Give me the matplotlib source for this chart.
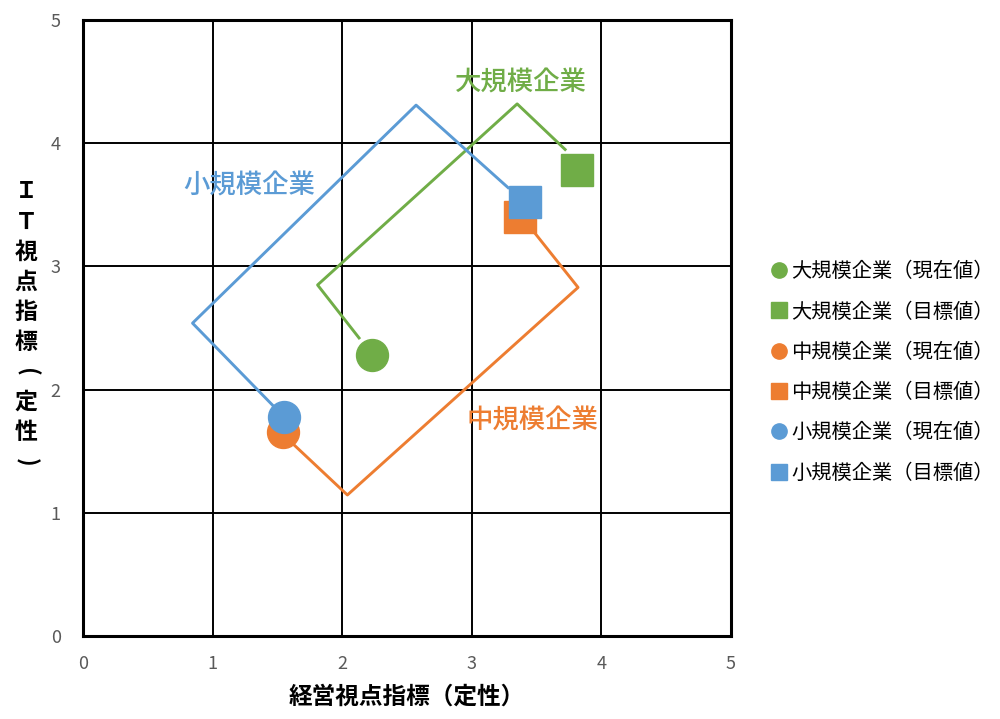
import matplotlib
matplotlib.use("Agg")
import matplotlib.pyplot as plt
from matplotlib.lines import Line2D

plt.rcParams['font.family'] = ['Noto Sans CJK JP', 'DejaVu Sans']

# Company groups and their colours
groups = ["大規模企業", "中規模企業", "小規模企業"]
colors = ["#70AD47", "#ED7D31", "#5B9BD5"]

# Current values (x: management indicator, y: IT indicator)
current_x = [2.23, 1.54, 1.55]
current_y = [2.28, 1.66, 1.78]
# Target values
target_x = [3.81, 3.37, 3.41]
target_y = [3.78, 3.40, 3.52]

# Elbow connector paths from current to target
path_large_x = [2.13, 1.81, 3.35, 3.72]
path_large_y = [2.42, 2.85, 4.32, 3.95]
path_mid_x = [1.63, 2.04, 3.82, 3.48]
path_mid_y = [1.55, 1.145, 2.83, 3.28]
path_small_x = [1.55, 0.845, 2.57, 3.28]
path_small_y = [1.78, 2.54, 4.31, 3.64]

# Group name annotations
label_x = [3.38, 3.47, 1.285]
label_y = [4.49, 1.745, 3.65]

ticks = [0, 1, 2, 3, 4, 5]
y_title = "ＩＴ視点指標(定性)"

fig = plt.figure(figsize=(10, 7.19), dpi=100)
ax = fig.add_axes([0.083, 0.1154, 0.648, 0.8566])
ax.set_xlim(0, 5)
ax.set_ylim(0, 5)
ax.set_xticks(ticks)
ax.set_yticks(ticks)
ax.grid(True, color="black", linewidth=1.4, zorder=0)
ax.set_axisbelow(True)
for s in ax.spines.values():
    s.set_linewidth(2.2)
    s.set_color("black")
ax.tick_params(length=0, labelsize=13, labelcolor="#595959", pad=14)
ax.tick_params(axis="y", pad=16)

paths = [(path_large_x, path_large_y), (path_mid_x, path_mid_y), (path_small_x, path_small_y)]
for (px, py), c in zip(paths, colors):
    ax.plot(px, py, color=c, linewidth=2.1, zorder=3, solid_joinstyle="round")

for i, c in enumerate(colors):
    ax.plot(current_x[i], current_y[i], "o", color=c, markersize=23, zorder=4 + i)
    ax.plot(target_x[i], target_y[i], "s", color=c, markersize=23, zorder=4 + i)
    ax.text(label_x[i], label_y[i], groups[i], color=c, fontsize=19,
            fontweight="medium", ha="center", va="center", zorder=8)

ax.set_xlabel("経営視点指標（定性）", fontsize=17, fontweight="bold", labelpad=8)

# Vertical (stacked) y-axis title; brackets turned sideways
y_top = 1 - 192 / 719
step = 30 / 719
for k, ch in enumerate(y_title):
    rot = -90 if ch in "()" else 0
    fig.text(0.026, y_top - k * step, ch, fontsize=16.5, fontweight="bold",
             ha="center", va="center", rotation=rot, rotation_mode="anchor")

handles = []
labels = []
for g, c in zip(groups, colors):
    handles.append(Line2D([], [], linestyle="none", marker="o", color=c, markersize=11))
    labels.append(f"{g}（現在値）")
    handles.append(Line2D([], [], linestyle="none", marker="s", color=c, markersize=11))
    labels.append(f"{g}（目標値）")
fig.legend(handles, labels, loc="center left", bbox_to_anchor=(0.763, 0.482),
           frameon=False, fontsize=14.6, handlelength=0.6, handletextpad=0.3,
           labelspacing=0.95, borderpad=0)

fig.savefig("out.png", dpi=100)
